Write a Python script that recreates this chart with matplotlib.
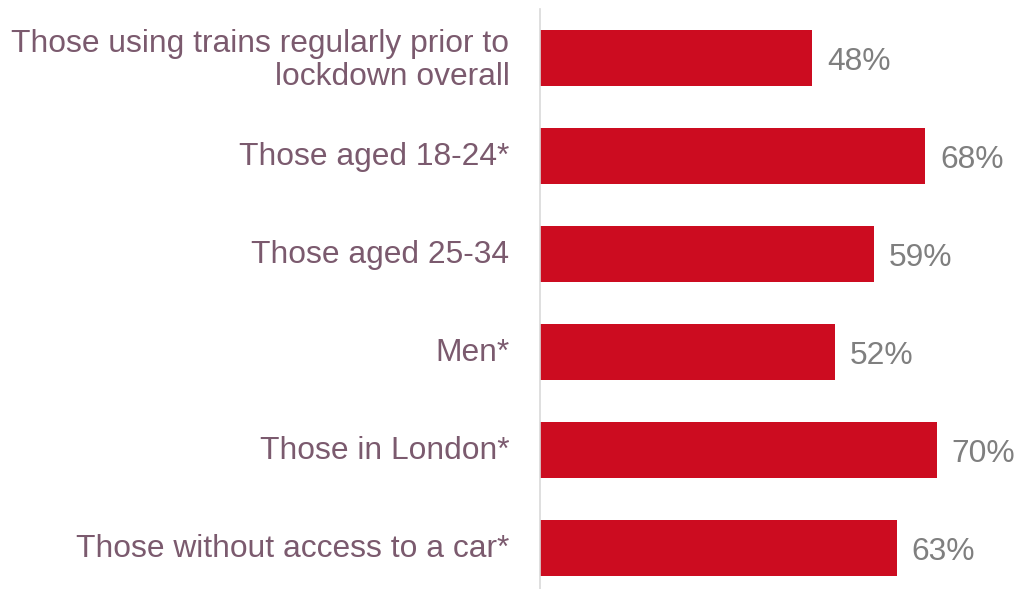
import matplotlib
matplotlib.use("Agg")
import matplotlib.pyplot as plt
import matplotlib.transforms as mtransforms

categories = [
    "Those using trains regularly prior to\nlockdown overall",
    "Those aged 18-24*",
    "Those aged 25-34",
    "Men*",
    "Those in London*",
    "Those without access to a car*",
]
values = [48, 68, 59, 52, 70, 63]
value_labels = ["48%", "68%", "59%", "52%", "70%", "63%"]

W, H = 1019, 589
fig = plt.figure(figsize=(W / 100, H / 100), dpi=100)
ax_left, ax_right = 540 / W, 1.0
ax_top, ax_bottom = 1 - 9 / H, 1 - 589 / H
ax = fig.add_axes([ax_left, ax_bottom, ax_right - ax_left, ax_top - ax_bottom])

font = ["Liberation Sans", "DejaVu Sans"]
y = list(range(len(categories)))
ax.barh(y, values, height=0.571, color="#CC0C20", zorder=2)
for yi, v, lab in zip(y, values, value_labels):
    ax.text(v + 2.6, yi + 0.04, lab, va="center", ha="left", fontsize=22.9,
            color="#7F7F7F", family=font)

ax.set_xlim(0, 479 / 5.667)
ax.set_ylim(5.418, -0.5)
ax.set_yticks(y)
ax.set_yticklabels(categories, fontsize=22.9, color="#7B5A6E", family=font,
                   linespacing=1.15)
ax.tick_params(axis="y", length=0, pad=22)
shift = mtransforms.ScaledTranslation(0, 3 / 100, fig.dpi_scale_trans)
for t in ax.get_yticklabels():
    t.set_transform(t.get_transform() + shift)
ax.set_xticks([])
for s in ["top", "right", "bottom"]:
    ax.spines[s].set_visible(False)
ax.spines["left"].set_color("#D9D9D9")
ax.spines["left"].set_linewidth(1.2)

fig.savefig("out.png", dpi=100)
